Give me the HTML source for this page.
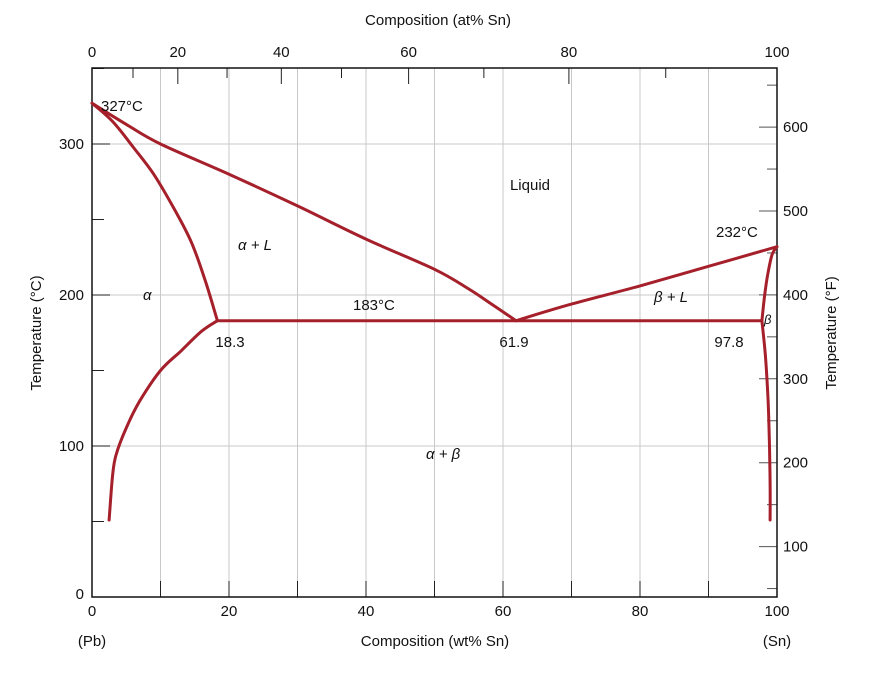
<!DOCTYPE html>
<html><head><meta charset="utf-8"><style>
html,body{margin:0;padding:0;background:#fff;}
svg text{font-family:"Liberation Sans",sans-serif;fill:#111;}
</style></head><body>
<svg id="c" width="871" height="683" xmlns="http://www.w3.org/2000/svg"></svg>
<script>
const wtTicks=[0,20,40,60,80,100];
const atTicks=[0,20,40,60,80,100];
const cTicks=[0,100,200,300];
const fTicks=[100,200,300,400,500,600];
const liqL_x=[0,5,10,20,30,40,50,55,58,61.9];
const liqL_t=[327,313,300,280,259,237,217,204,195,183];
const solA_x=[0,3,6,9,12,14.5,16.5,18.3];
const solA_t=[327,315,298,280,257,235,210,183];
const solvA_x=[18.3,16,13,10,7,5,3.5,3,2.5];
const solvA_t=[183,176,163,150,130,112,94,80,51];
const liqR_x=[61.9,70,80,90,100];
const liqR_t=[183,194,206,219,232];
const solB_x=[97.8,98.2,98.7,99.3,100];
const solB_t=[183,200,215,227,232];
const solvB_x=[97.8,98.3,98.7,98.9,99,99];
const solvB_t=[183,160,130,100,75,51];
const L=92,R=777,T=68,B=597;
const X=w=>L+(R-L)*w/100;
const Y=t=>B-t*1.51;
const YF=f=>211-(f-500)*0.839;
const atToWt=a=>100*a*118.71/(a*118.71+(100-a)*207.2);
const s=document.getElementById('c');const NS='http://www.w3.org/2000/svg';
function el(tag,at,txt){const e=document.createElementNS(NS,tag);for(const k in at)e.setAttribute(k,at[k]);if(txt!==undefined)e.textContent=txt;s.appendChild(e);return e;}
for(let w=10;w<100;w+=10){const g=el('line',{x1:X(w),x2:X(w),y1:T,y2:B,stroke:'#c8c8c8','stroke-width':1});

}
for(const t of [100,200,300]){const g=el('line',{x1:L,x2:R,y1:Y(t),y2:Y(t),stroke:'#c8c8c8','stroke-width':1});

}
for(let w=10;w<100;w+=10){el('line',{x1:X(w),x2:X(w),y1:B,y2:B-16,stroke:'#222'});}
for(const w of wtTicks){const t=el('text',{x:X(w),y:B+19,'text-anchor':'middle','font-size':15},w);

}
for(let c=50;c<=350;c+=50){el('line',{x1:L,x2:L+(c%100==0?18:12),y1:Y(c),y2:Y(c),stroke:'#222'});}
for(const c of cTicks){const t=el('text',{x:L-8,y:Y(c)+(c==0?2:5),'text-anchor':'end','font-size':15},c);

}
for(let a=10;a<100;a+=10){el('line',{x1:X(atToWt(a)),x2:X(atToWt(a)),y1:T,y2:T+(a%20==0?16:10),stroke:'#222'});}
for(const a of atTicks){const t=el('text',{x:X(atToWt(a)),y:T-11,'text-anchor':'middle','font-size':15},a);

}
for(let f=50;f<=650;f+=50){const y=YF(f);if(y<T||y>B)continue;el('line',{x1:R,x2:R-(f%100==0?18:10),y1:y,y2:y,stroke:'#555'});}
for(const f of fTicks){const t=el('text',{x:R+6,y:YF(f)+5,'font-size':15},f);

}
el('rect',{x:L,y:T,width:R-L,height:B-T,fill:'none',stroke:'#111','stroke-width':1.5});
function curve(xs,ts,name){const P=xs.map((x,i)=>[X(x),Y(ts[i])]);let d='M'+P[0][0].toFixed(1)+','+P[0][1].toFixed(1);
for(let i=0;i<P.length-1;i++){const p0=P[Math.max(0,i-1)],p1=P[i],p2=P[i+1],p3=P[Math.min(P.length-1,i+2)];
const c1=[p1[0]+(p2[0]-p0[0])/6,p1[1]+(p2[1]-p0[1])/6],c2=[p2[0]-(p3[0]-p1[0])/6,p2[1]-(p3[1]-p1[1])/6];
d+='C'+c1.map(v=>v.toFixed(1)).join(',')+' '+c2.map(v=>v.toFixed(1)).join(',')+' '+p2.map(v=>v.toFixed(1)).join(',');}
const p=el('path',{d:d,fill:'none',stroke:'#a5202a','stroke-width':3,'stroke-linejoin':'round','stroke-linecap':'round'});

}
curve(liqL_x,liqL_t,'liquidus-left');
curve(solA_x,solA_t,'solidus-alpha');
curve(solvA_x,solvA_t,'solvus-alpha');
curve(liqR_x,liqR_t,'liquidus-right');
curve(solB_x,solB_t,'solidus-beta');
curve(solvB_x,solvB_t,'solvus-beta');
curve([18.3,97.8],[183,183],'eutectic-line');
</script>
<svg width="871" height="683" style="position:absolute;left:0;top:0" xmlns="http://www.w3.org/2000/svg">
<g font-family="Liberation Sans, sans-serif" font-size="15" fill="#111">
<text x="438" y="25" text-anchor="middle">Composition (at% Sn)</text>
<text x="435" y="646" text-anchor="middle">Composition (wt% Sn)</text>
<text x="92" y="646" text-anchor="middle">(Pb)</text>
<text x="777" y="646" text-anchor="middle">(Sn)</text>
<text transform="translate(41,333) rotate(-90)" text-anchor="middle">Temperature (°C)</text>
<text transform="translate(836,333) rotate(-90)" text-anchor="middle">Temperature (°F)</text>
<text x="101" y="111">327°C</text>
<text x="716" y="237">232°C</text>
<text x="353" y="310">183°C</text>
<text x="530" y="190" text-anchor="middle">Liquid</text>
<text x="230" y="347" text-anchor="middle">18.3</text>
<text x="514" y="347" text-anchor="middle">61.9</text>
<text x="729" y="347" text-anchor="middle">97.8</text>
<g font-family="Liberation Serif, serif" font-style="italic">
<text x="238" y="250">α + L</text>
<text x="143" y="300">α</text>
<text x="426" y="459">α + β</text>
<text x="654" y="302">β + L</text>
<text x="764" y="324" font-size="13">β</text>
</g></g></svg>
</body></html>
